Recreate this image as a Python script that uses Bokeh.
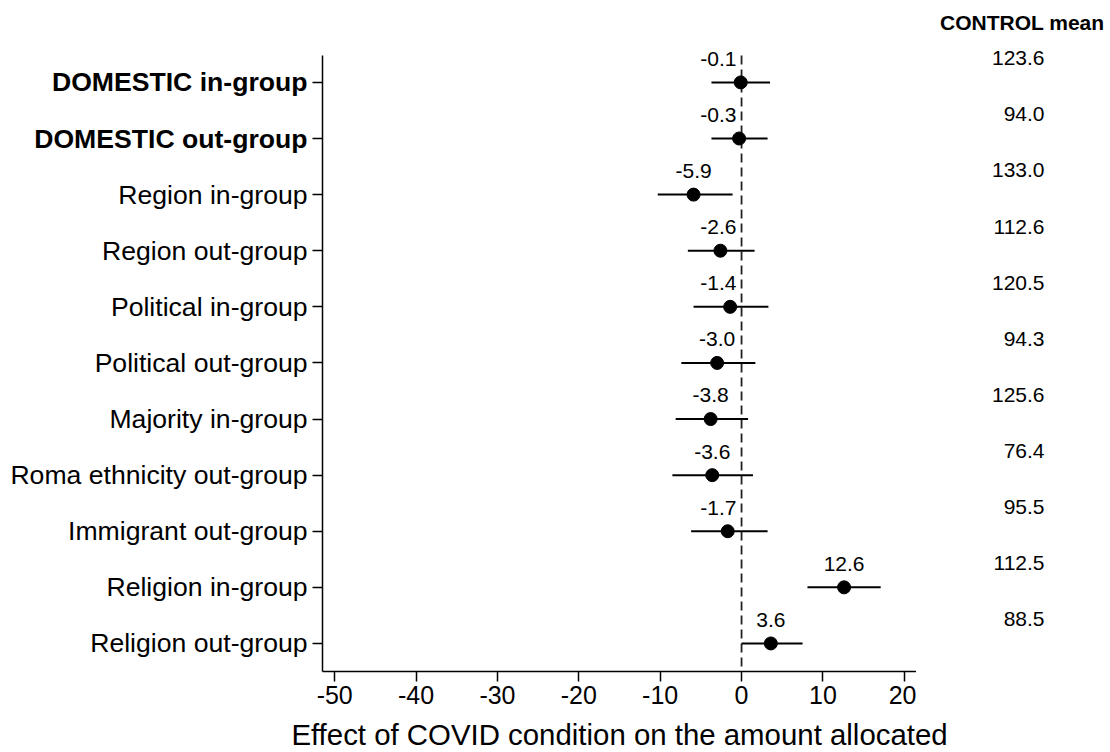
import numpy as np
from bokeh.plotting import figure
from bokeh.layouts import row as layout_row, column as layout_column
from bokeh.models import ColumnDataSource, FixedTicker, Range1d
from bokeh.embed import file_html
from bokeh.resources import INLINE
from bokeh.core.properties import value, field

# ---------------- data ----------------
groups = ["DOMESTIC in-group", "DOMESTIC out-group", "Region in-group",
          "Region out-group", "Political in-group", "Political out-group",
          "Majority in-group", "Roma ethnicity out-group", "Immigrant out-group",
          "Religion in-group", "Religion out-group"]
bold_groups = [True, True, False, False, False, False, False, False, False, False, False]
estimates = [-0.1, -0.3, -5.9, -2.6, -1.4, -3.0, -3.8, -3.6, -1.7, 12.6, 3.6]
ci_low = [-3.7, -3.7, -10.3, -6.6, -5.9, -7.4, -8.1, -8.5, -6.2, 8.1, 0.0]
ci_high = [3.5, 3.2, -1.1, 1.6, 3.3, 1.7, 0.8, 1.4, 3.2, 17.1, 7.5]
control_means = ["123.6", "94.0", "133.0", "112.6", "120.5", "94.3",
                 "125.6", "76.4", "95.5", "112.5", "88.5"]
x_ticks = [-50, -40, -30, -20, -10, 0, 10, 20]
x_tick_labels = ["-50", "-40", "-30", "-20", "-10", "0", "10", "20"]
x_title = "Effect of COVID condition on the amount allocated"
control_title = "CONTROL mean"

# ---------------- layout constants ----------------
FONT = "Liberation Sans"
n = len(groups)
rows = list(range(1, n + 1))
TOTAL_W, TOTAL_H = 1110, 752
H = 716                # height of the chart row
BOTTOM = 45            # room for x ticks + tick labels
STRIP_H = TOTAL_H - H  # strip that carries the x-axis title
LABEL_W = 312          # category-label panel
MAIN_W = 604           # main panel (10 px border + 594 px frame)
RIGHT_W = TOTAL_W - LABEL_W - MAIN_W  # control-mean panel
Y_TOP, Y_BOTTOM = -0.46, 11.5          # shared vertical range (row units)
AXIS_TOP = 0.52                        # where the drawn axes begin

y_range = Range1d(start=Y_BOTTOM, end=Y_TOP)


def bare_panel(width, height, bottom, yr):
    f = figure(width=width, height=height, output_backend="svg", toolbar_location=None,
               x_range=Range1d(0, width), y_range=yr,
               x_axis_type=None, y_axis_type=None,
               min_border_left=0, min_border_right=0, min_border_top=0,
               min_border_bottom=bottom)
    f.outline_line_color = None
    f.xgrid.visible = False
    f.ygrid.visible = False
    return f


# ---------------- category labels (left) ----------------
left = bare_panel(LABEL_W, H, BOTTOM, y_range)
left.text(x=LABEL_W - 5, y="row", text="txt",
          source=ColumnDataSource(dict(
              row=rows, txt=groups,
              style=["bold" if b else "normal" for b in bold_groups])),
          text_font=value(FONT), text_font_size="26.6px",
          text_font_style=field("style"), text_align="right",
          text_baseline="middle", text_color="black")

# ---------------- main panel ----------------
p = figure(width=MAIN_W, height=H, output_backend="svg", toolbar_location=None,
           x_range=Range1d(-51.5, 21.5), y_range=y_range,
           min_border_left=10, min_border_right=0, min_border_top=0,
           min_border_bottom=BOTTOM)
p.outline_line_color = None
p.xgrid.visible = False
p.ygrid.visible = False

# zero reference line (dashed), limited to the axis extent
p.segment(x0=[0], y0=[AXIS_TOP], x1=[0], y1=[Y_BOTTOM],
          line_color="#222222", line_width=1.8, line_dash="9 5")

est = np.array(estimates)
label_x = np.where((est < 0) & (est > -2.85), -2.85, est)
src = ColumnDataSource(dict(
    row=rows, est=estimates, lo=ci_low, hi=ci_high,
    lab=[f"{v:.1f}" for v in estimates],
    lx=label_x.tolist(),
    ly=[r - 0.42 for r in rows],
))
p.segment(x0="lo", y0="row", x1="hi", y1="row", source=src,
          line_color="black", line_width=2)
p.scatter(x="est", y="row", source=src, size=13, color="black")
p.text(x="lx", y="ly", text="lab", source=src, text_font=value(FONT),
       text_font_size="21px", text_align="center", text_baseline="middle",
       text_color="black")

xa = p.xaxis[0]
xa.ticker = FixedTicker(ticks=x_ticks)
xa.major_label_overrides = {t: s for t, s in zip(x_ticks, x_tick_labels)}
xa.major_label_text_font = FONT
xa.major_label_text_font_size = "25px"
xa.major_label_text_color = "black"
xa.major_label_standoff = 4
xa.major_tick_in = 0
xa.major_tick_out = 10
xa.minor_tick_line_color = None
xa.axis_line_width = 1.5
xa.major_tick_line_width = 1.5
xa.axis_line_color = "black"
xa.major_tick_line_color = "black"

ya = p.yaxis[0]
ya.ticker = FixedTicker(ticks=rows)
ya.bounds = (AXIS_TOP, Y_BOTTOM)
ya.major_label_overrides = {r: "" for r in rows}
ya.major_label_text_font_size = "0px"
ya.major_label_standoff = 0
ya.major_tick_in = 0
ya.major_tick_out = 10
ya.minor_tick_line_color = None
ya.axis_line_width = 1.5
ya.major_tick_line_width = 1.5
ya.axis_line_color = "black"
ya.major_tick_line_color = "black"

# ---------------- control means (right) ----------------
right = bare_panel(RIGHT_W, H, BOTTOM, y_range)
right.text(x=RIGHT_W - 66, y="y", text="txt",
           source=ColumnDataSource(dict(y=[r - 0.43 for r in rows], txt=control_means)),
           text_font=value(FONT), text_font_size="21px",
           text_align="right", text_baseline="middle", text_color="black")
right.text(x=[RIGHT_W - 6], y=[1 - 1.07], text=[control_title],
           text_font=value(FONT), text_font_size="21px", text_font_style="bold",
           text_align="right", text_baseline="middle", text_color="black")

# ---------------- x-axis title strip ----------------
strip = bare_panel(TOTAL_W, STRIP_H, 0, Range1d(0, STRIP_H))
frame_center = LABEL_W + 10 + 594 / 2
strip.text(x=[frame_center], y=[STRIP_H - 18], text=[x_title],
           text_font=value(FONT), text_font_size="29.4px",
           text_align="center", text_baseline="middle", text_color="black")

layout = layout_column(layout_row(left, p, right), strip)
open("out.html", "w").write(file_html(layout, INLINE))
